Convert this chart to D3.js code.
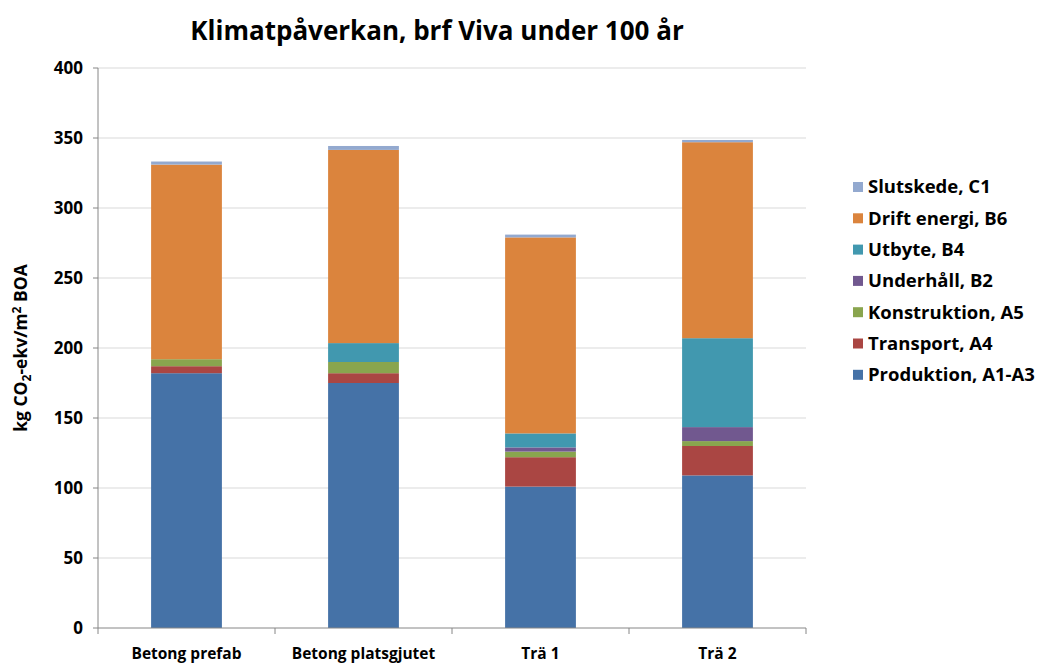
<!DOCTYPE html>
<html>
<head>
<meta charset="utf-8">
<script src="https://cdn.jsdelivr.net/npm/d3@7"></script>
<style>
	body { margin: 0; background: #fff; }
	text { font-family: "Open Sans", Lato, sans-serif; font-weight: bold; fill: #000; }
</style>
</head>
<body>
<svg id="chart" width="1053" height="665"></svg>
<script>
// data
const categories = ["Betong prefab", "Betong platsgjutet", "Trä 1", "Trä 2"];
const seriesNames = ["Produktion, A1-A3", "Transport, A4", "Konstruktion, A5", "Underhåll, B2", "Utbyte, B4", "Drift energi, B6", "Slutskede, C1"];
const produktion = [182, 175, 101, 109];
const transport = [5, 7, 21, 21];
const konstruktion = [5, 8, 4, 3.5];
const underhall = [0, 0, 3, 10];
const utbyte = [0, 13.5, 10, 63.5];
const drift = [139, 138, 140, 140];
const slutskede = [2.2, 2.8, 2, 1.6];
const yTicks = [0, 50, 100, 150, 200, 250, 300, 350, 400];
const colors = ["#4572A7", "#AA4643", "#89A54E", "#71588F", "#4198AF", "#DB843D", "#93A9CF"];

const values = [produktion, transport, konstruktion, underhall, utbyte, drift, slutskede];
const rows = categories.map((c, i) => {
	const r = {cat: c};
	seriesNames.forEach((s, j) => r[s] = values[j][i]);
	return r;
});

const svg = d3.select("#chart");
const margin = {left: 98, right: 247, top: 68, bottom: 37};
const width = 1053 - margin.left - margin.right;
const height = 665 - margin.top - margin.bottom;
const g = svg.append("g").attr("transform", `translate(${margin.left},${margin.top})`);

const x = d3.scaleBand().domain(categories).range([0, width]).paddingInner(0.6).paddingOuter(0.3);
const y = d3.scaleLinear().domain([0, 400]).range([height, 0]);

// gridlines
g.selectAll(".grid").data(yTicks.slice(1)).enter()
	.append("line")
	.attr("x1", 0).attr("x2", width)
	.attr("y1", d => y(d)).attr("y2", d => y(d))
	.attr("stroke", "#d9d9d9").attr("stroke-width", 1);

// stacked bars
const stack = d3.stack().keys(seriesNames)(rows);
g.selectAll(".layer").data(stack).enter()
	.append("g")
	.attr("fill", (d, i) => colors[i])
	.selectAll("rect").data(d => d).enter()
	.append("rect")
	.attr("x", d => x(d.data.cat))
	.attr("width", x.bandwidth())
	.attr("y", d => y(d[1]))
	.attr("height", d => y(d[0]) - y(d[1]));

// y axis
g.append("line").attr("x1", 0).attr("x2", 0).attr("y1", 0).attr("y2", height)
	.attr("stroke", "#868686");
g.selectAll(".ytick").data(yTicks).enter()
	.append("line")
	.attr("x1", -5).attr("x2", 0)
	.attr("y1", d => y(d)).attr("y2", d => y(d))
	.attr("stroke", "#868686");
g.selectAll(".ylab").data(yTicks).enter()
	.append("text")
	.attr("x", -15).attr("y", d => y(d)).attr("dy", "0.35em")
	.attr("text-anchor", "end").attr("font-size", 17)
	.text(d => d);

// x axis
g.append("line").attr("x1", 0).attr("x2", width).attr("y1", height).attr("y2", height)
	.attr("stroke", "#868686");
g.selectAll(".xtick").data(d3.range(categories.length + 1)).enter()
	.append("line")
	.attr("x1", d => d * width / categories.length).attr("x2", d => d * width / categories.length)
	.attr("y1", height).attr("y2", height + 6)
	.attr("stroke", "#868686");
g.selectAll(".xlab").data(categories).enter()
	.append("text")
	.attr("x", d => x(d) + x.bandwidth() / 2).attr("y", height + 31)
	.attr("text-anchor", "middle").attr("font-size", 15.5)
	.text(d => d);

// title
svg.append("text")
	.attr("x", 437).attr("y", 40)
	.attr("text-anchor", "middle").attr("font-size", 26)
	.text("Klimatpåverkan, brf Viva under 100 år");

// y axis title
const yt = svg.append("text")
	.attr("transform", "translate(27,348) rotate(-90)")
	.attr("text-anchor", "middle").attr("font-size", 17.5);
yt.append("tspan").text("kg CO");
yt.append("tspan").attr("font-size", 12).attr("dy", 4).text("2");
yt.append("tspan").attr("dy", -4).text("-ekv/m");
yt.append("tspan").attr("font-size", 12).attr("dy", -6).text("2");
yt.append("tspan").attr("dy", 6).text(" BOA");

// legend, top entry is the last series
const legend = svg.append("g").attr("transform", "translate(853,187)");
const items = seriesNames.map((s, i) => ({name: s, color: colors[i]})).reverse();
const li = legend.selectAll(".item").data(items).enter()
	.append("g")
	.attr("transform", (d, i) => `translate(0,${i * 31.3})`);
li.append("rect").attr("x", 0).attr("y", -5).attr("width", 10).attr("height", 10)
	.attr("fill", d => d.color);
li.append("text").attr("x", 15).attr("dy", "0.35em").attr("font-size", 18.5)
	.text(d => d.name);
</script>
</body>
</html>
